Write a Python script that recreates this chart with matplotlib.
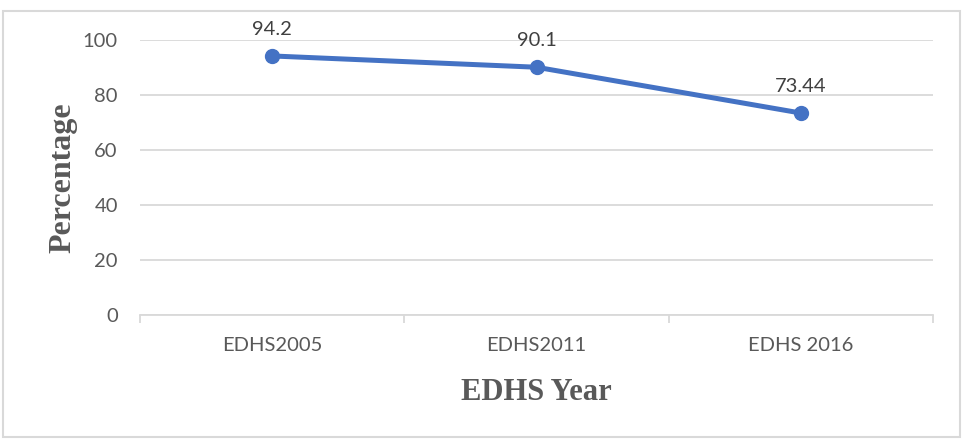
import matplotlib; matplotlib.use("Agg")
import matplotlib.pyplot as plt
from matplotlib.patches import Rectangle

years = ['EDHS2005', 'EDHS2011', 'EDHS 2016']
values = [94.2, 90.1, 73.44]
labels = ['94.2', '90.1', '73.44']
yticks = [0, 20, 40, 60, 80, 100]

fig = plt.figure(figsize=(9.65, 4.45), dpi=100)
ax = fig.add_axes([140/965, 130/445, 793/965, 275/445])

# outer frame
fig.patches.append(Rectangle((3/965, 8/445), 957/965, 426/445, transform=fig.transFigure,
                             fill=False, edgecolor='#d9d9d9', linewidth=1.5))

x = list(range(len(years)))
ax.plot(x, values, color='#4472c4', linewidth=3.6, marker='o', markersize=10,
        solid_capstyle='round', zorder=3)
for xi, v, lab in zip(x, values, labels):
    ax.annotate(lab, (xi, v), xytext=(0, 13), textcoords='offset points',
                ha='center', va='bottom', fontsize=14.5, color='#404040', family='Lato')

ax.set_xlim(-0.5, len(years) - 0.5)
ax.set_ylim(0, 100)
ax.set_yticks(yticks)
ax.set_xticks(x)
ax.set_xticklabels(years)
ax.set_xticks([i - 0.5 for i in range(len(years) + 1)], minor=True)
ax.grid(axis='y', color='#d9d9d9', linewidth=1.3)
ax.set_axisbelow(True)
for s in ['top', 'right', 'left']:
    ax.spines[s].set_visible(False)
ax.spines['bottom'].set_color('#d9d9d9')
ax.spines['bottom'].set_linewidth(1.3)
ax.tick_params(axis='y', length=0, pad=16, labelsize=14.5, labelcolor='#595959')
ax.tick_params(axis='x', which='major', length=0, pad=16, labelsize=14.5, labelcolor='#595959')
ax.tick_params(axis='x', which='minor', length=6, width=1.3, color='#d9d9d9')
for t in ax.get_xticklabels() + ax.get_yticklabels():
    t.set_family('Lato')

ax.set_ylabel('Percentage', family='Liberation Serif', fontweight='bold', fontsize=23,
              color='#595959', labelpad=4)
ax.set_xlabel('EDHS Year', family='Liberation Serif', fontweight='bold', fontsize=22,
              color='#595959', labelpad=17)

fig.savefig('out.png', dpi=100)
